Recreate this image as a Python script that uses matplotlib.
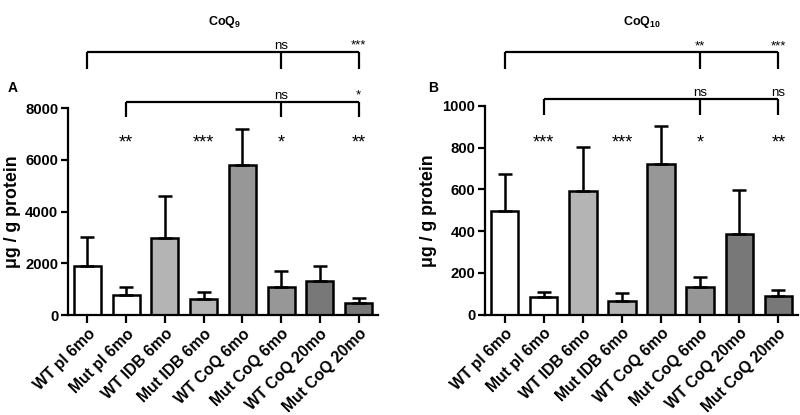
import matplotlib
matplotlib.use("Agg")
import matplotlib.pyplot as plt

plt.rcParams['font.family'] = ['Liberation Sans', 'DejaVu Sans']
plt.rcParams['mathtext.fontset'] = 'custom'
plt.rcParams['mathtext.rm'] = 'Liberation Sans:bold'
plt.rcParams['mathtext.bf'] = 'Liberation Sans:bold'

categories = ["WT pl 6mo", "Mut pl 6mo", "WT IDB 6mo", "Mut IDB 6mo",
              "WT CoQ 6mo", "Mut CoQ 6mo", "WT CoQ 20mo", "Mut CoQ 20mo"]
bar_colors = ["#ffffff", "#ffffff", "#b4b4b4", "#b4b4b4",
              "#979797", "#979797", "#787878", "#787878"]

coq9_mean = [1880, 770, 2960, 610, 5800, 1100, 1310, 450]
coq9_err = [1120, 325, 1630, 290, 1390, 600, 580, 195]
coq9_stars = ["", "**", "", "***", "", "*", "", "**"]

coq10_mean = [495, 85, 592, 67, 721, 133, 388, 90]
coq10_err = [177, 23, 213, 37, 184, 48, 208, 27]
coq10_stars = ["", "***", "", "***", "", "*", "", "**"]

fig = plt.figure(figsize=(8, 4.15), dpi=100)

def panel(rect, mean, err, stars, ymax, ystep, title, letter, star_y,
          br1_y, br1_tick, br1_labels, br2_y, br2_tick, br2_labels, title_x, letter_x,
          ylabel_x):
    ax = fig.add_axes(rect)
    x = list(range(len(mean)))
    ax.bar(x, mean, width=0.7, color=bar_colors, edgecolor="black", linewidth=1.8,
           yerr=[[0] * len(err), err], capsize=5,
           error_kw=dict(elinewidth=1.8, capthick=1.8, ecolor="black"), zorder=2)
    ax.set_xlim(-0.5, 7.5)
    ax.set_ylim(0, ymax)
    ax.set_yticks(range(0, ymax + 1, ystep))
    ax.set_xticks(x)
    ax.set_xticklabels(categories, rotation=45, ha="right", rotation_mode="anchor",
                       fontweight="bold", fontsize=11.3)
    for lab in ax.get_yticklabels():
        lab.set_fontweight("bold")
        lab.set_fontsize(10.7)
    ax.spines["top"].set_visible(False)
    ax.spines["right"].set_visible(False)
    ax.spines["left"].set_linewidth(1.6)
    ax.spines["bottom"].set_linewidth(1.6)
    ax.tick_params(axis="both", direction="out", width=1.6, length=5)
    ax.tick_params(axis="y", pad=2)
    ax.tick_params(axis="x", length=6, pad=2)
    ax.set_ylabel("\u03bcg / g protein", fontweight="bold", fontsize=12.8)
    ax.yaxis.set_label_coords(ylabel_x, 0.5)
    for i, s in enumerate(stars):
        if s:
            ax.text(i, star_y, s, ha="center", va="center", fontsize=13)
    for (start, y, ytick, labels) in [(0, br1_y, br1_tick, br1_labels),
                                       (1, br2_y, br2_tick, br2_labels)]:
        ax.plot([start, 7], [y, y], color="black", lw=1.6, clip_on=False,
                solid_capstyle="butt")
        for t in (start, 5, 7):
            ax.plot([t, t], [y, ytick], color="black", lw=1.6, clip_on=False,
                    solid_capstyle="butt")
        ax.text(5, y, labels[0], ha="center", va="bottom", fontsize=9.5)
        ax.text(7, y, labels[1], ha="center", va="bottom", fontsize=9.5)
    fig.text(title_x, 1 - 22 / 415, title, ha="center", va="center", fontsize=9)
    fig.text(letter_x, 1 - 88 / 415, letter, ha="left", va="center",
             fontsize=10, fontweight="bold")
    return ax

panel([68 / 800, 1 - 315 / 415, 310 / 800, 207 / 415], coq9_mean, coq9_err, coq9_stars,
      8000, 2000, r"$\mathrm{CoQ_9}$", "A", 6650,
      10170, 9520, ["ns", "***"], 8240, 7660, ["ns", "*"], 225 / 800, 8 / 800, -0.15)

panel([485 / 800, 1 - 314.5 / 415, 313 / 800, 208.5 / 415], coq10_mean, coq10_err, coq10_stars,
      1000, 200, r"$\mathrm{CoQ_{10}}$", "B", 822,
      1259, 1177, ["**", "***"], 1033, 956, ["ns", "ns"], 642 / 800, 428 / 800, -0.153)

fig.savefig("out.png", dpi=100)
